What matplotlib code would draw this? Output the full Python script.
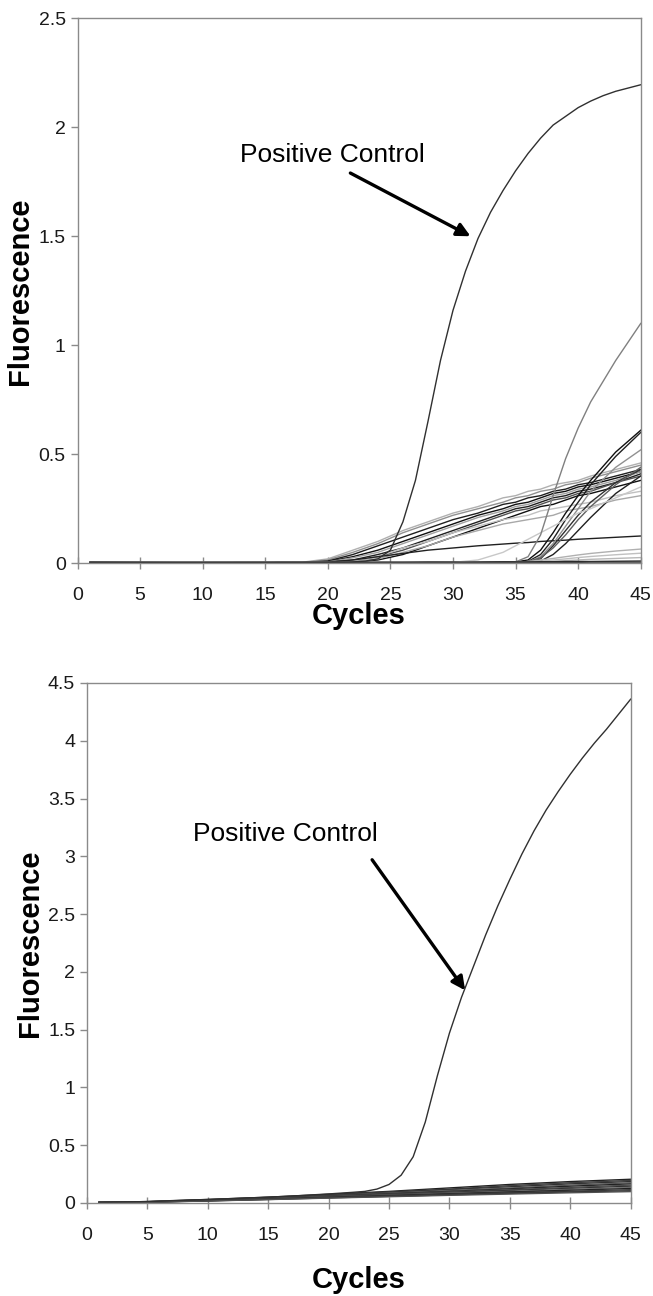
import matplotlib
matplotlib.use("Agg")
import matplotlib.pyplot as plt

plt.rcParams['font.family'] = ['Liberation Sans', 'DejaVu Sans']

# ---- top panel data (cycles, fluorescence) ----
pc_top_x = list(range(1, 46))
pc_top_y = [0.002, 0.002, 0.002, 0.002, 0.002, 0.002, 0.002, 0.002, 0.002, 0.002,
            0.002, 0.002, 0.002, 0.002, 0.002, 0.003, 0.003, 0.003, 0.003, 0.003,
            0.004, 0.006, 0.01, 0.02, 0.06, 0.19, 0.38, 0.65, 0.93, 1.16,
            1.34, 1.49, 1.61, 1.71, 1.8, 1.88, 1.95, 2.01, 2.05, 2.09,
            2.12, 2.145, 2.165, 2.18, 2.195]

top_x = [1, 10, 18, 20, 22, 24, 26, 28, 30, 32, 34, 35, 36, 37, 38, 39, 40, 41, 43, 45]
top_curves = [
    # early risers
    [0.003, 0.003, 0.005, 0.02, 0.06, 0.1, 0.15, 0.19, 0.23, 0.26, 0.3, 0.31, 0.33, 0.34, 0.36, 0.37, 0.38, 0.4, 0.43, 0.46],
    [0.003, 0.003, 0.004, 0.015, 0.05, 0.09, 0.14, 0.18, 0.22, 0.25, 0.28, 0.3, 0.31, 0.33, 0.34, 0.36, 0.37, 0.39, 0.42, 0.45],
    [0.003, 0.003, 0.004, 0.01, 0.04, 0.08, 0.12, 0.16, 0.2, 0.23, 0.27, 0.28, 0.3, 0.31, 0.33, 0.34, 0.36, 0.37, 0.4, 0.43],
    [0.003, 0.003, 0.003, 0.008, 0.03, 0.06, 0.1, 0.14, 0.18, 0.22, 0.25, 0.27, 0.28, 0.3, 0.32, 0.33, 0.35, 0.36, 0.39, 0.42],
    [0.003, 0.003, 0.003, 0.006, 0.025, 0.05, 0.09, 0.13, 0.17, 0.21, 0.24, 0.26, 0.27, 0.29, 0.31, 0.32, 0.34, 0.35, 0.38, 0.42],
    [0.003, 0.003, 0.003, 0.005, 0.015, 0.04, 0.07, 0.11, 0.15, 0.19, 0.23, 0.25, 0.26, 0.28, 0.3, 0.31, 0.33, 0.34, 0.37, 0.41],
    [0.003, 0.003, 0.003, 0.004, 0.01, 0.03, 0.06, 0.1, 0.14, 0.18, 0.22, 0.24, 0.25, 0.27, 0.29, 0.3, 0.32, 0.33, 0.37, 0.4],
    [0.003, 0.003, 0.003, 0.004, 0.006, 0.015, 0.04, 0.08, 0.12, 0.16, 0.2, 0.22, 0.24, 0.26, 0.27, 0.29, 0.31, 0.32, 0.35, 0.38],
    [0.003, 0.003, 0.003, 0.004, 0.01, 0.03, 0.07, 0.1, 0.14, 0.17, 0.2, 0.21, 0.22, 0.24, 0.25, 0.26, 0.27, 0.28, 0.31, 0.33],
    [0.003, 0.003, 0.003, 0.004, 0.006, 0.02, 0.05, 0.08, 0.12, 0.15, 0.18, 0.19, 0.2, 0.21, 0.22, 0.24, 0.25, 0.26, 0.29, 0.31],
    [0.003, 0.003, 0.003, 0.005, 0.015, 0.03, 0.045, 0.06, 0.07, 0.08, 0.088, 0.092, 0.095, 0.1, 0.103, 0.106, 0.11, 0.113, 0.119, 0.125],
    # late steep risers
    [0.003, 0.003, 0.003, 0.003, 0.003, 0.003, 0.003, 0.003, 0.003, 0.003, 0.004, 0.006, 0.015, 0.06, 0.14, 0.23, 0.31, 0.38, 0.51, 0.61],
    [0.003, 0.003, 0.003, 0.003, 0.003, 0.003, 0.003, 0.003, 0.003, 0.003, 0.004, 0.005, 0.008, 0.04, 0.11, 0.2, 0.28, 0.36, 0.49, 0.6],
    [0.003, 0.003, 0.003, 0.003, 0.003, 0.003, 0.003, 0.003, 0.003, 0.003, 0.003, 0.004, 0.006, 0.03, 0.09, 0.17, 0.25, 0.33, 0.44, 0.52],
    [0.003, 0.003, 0.003, 0.003, 0.003, 0.003, 0.003, 0.003, 0.003, 0.003, 0.003, 0.004, 0.005, 0.02, 0.08, 0.15, 0.22, 0.28, 0.37, 0.43],
    [0.003, 0.003, 0.003, 0.003, 0.003, 0.003, 0.003, 0.003, 0.003, 0.003, 0.003, 0.003, 0.004, 0.01, 0.04, 0.09, 0.15, 0.21, 0.32, 0.4],
    [0.003, 0.003, 0.003, 0.003, 0.003, 0.003, 0.003, 0.003, 0.003, 0.003, 0.003, 0.004, 0.006, 0.025, 0.07, 0.13, 0.2, 0.26, 0.36, 0.44],
    [0.003, 0.003, 0.003, 0.003, 0.003, 0.003, 0.003, 0.003, 0.004, 0.015, 0.05, 0.08, 0.11, 0.14, 0.17, 0.2, 0.23, 0.25, 0.3, 0.35],
    [0.003, 0.003, 0.003, 0.003, 0.003, 0.003, 0.003, 0.003, 0.003, 0.003, 0.004, 0.006, 0.03, 0.13, 0.31, 0.48, 0.62, 0.74, 0.93, 1.1],
    # near-baseline
    [0.002, 0.002, 0.002, 0.002, 0.002, 0.002, 0.002, 0.002, 0.002, 0.002, 0.003, 0.004, 0.008, 0.015, 0.022, 0.03, 0.038, 0.045, 0.056, 0.065],
    [0.002, 0.002, 0.002, 0.002, 0.002, 0.002, 0.002, 0.002, 0.002, 0.002, 0.002, 0.003, 0.005, 0.01, 0.015, 0.02, 0.026, 0.031, 0.039, 0.046],
    [0.002, 0.002, 0.002, 0.002, 0.002, 0.002, 0.002, 0.002, 0.002, 0.002, 0.002, 0.003, 0.004, 0.006, 0.009, 0.012, 0.015, 0.018, 0.022, 0.026],
    [0.004, 0.002, 0.002, 0.003, 0.003, 0.004, 0.004, 0.005, 0.005, 0.005, 0.006, 0.006, 0.006, 0.007, 0.007, 0.008, 0.008, 0.008, 0.009, 0.01],
    [0.003, 0.001, 0.001, 0.002, 0.002, 0.002, 0.002, 0.003, 0.003, 0.003, 0.003, 0.003, 0.004, 0.004, 0.004, 0.004, 0.004, 0.005, 0.005, 0.005],
]
top_colors = ['#b0b0b0', '#909090', '#202020', '#101010', '#a0a0a0', '#202020', '#505050', '#101010',
              '#c0c0c0', '#a8a8a8', '#202020',
              '#101010', '#202020', '#909090', '#303030', '#202020', '#606060', '#c8c8c8', '#808080',
              '#b0b0b0', '#c0c0c0', '#b8b8b8', '#202020', '#404040']

# ---- bottom panel data ----
pc_bot_x = list(range(1, 46))
pc_bot_y = [0.005, 0.006, 0.008, 0.01, 0.012, 0.015, 0.02, 0.023, 0.027, 0.03,
            0.034, 0.038, 0.042, 0.046, 0.05, 0.055, 0.06, 0.066, 0.072, 0.078,
            0.085, 0.092, 0.1, 0.12, 0.16, 0.24, 0.4, 0.7, 1.1, 1.47,
            1.78, 2.05, 2.32, 2.57, 2.8, 3.02, 3.22, 3.4, 3.56, 3.71,
            3.85, 3.98, 4.1, 4.23, 4.36]

bot_x = [1, 5, 10, 15, 20, 25, 30, 35, 40, 45]
bot_curves = [
    [0.005, 0.012, 0.03, 0.05, 0.075, 0.1, 0.13, 0.16, 0.185, 0.205],
    [0.005, 0.011, 0.028, 0.048, 0.07, 0.095, 0.12, 0.15, 0.175, 0.195],
    [0.005, 0.01, 0.026, 0.045, 0.066, 0.09, 0.115, 0.14, 0.165, 0.185],
    [0.004, 0.01, 0.025, 0.043, 0.062, 0.085, 0.108, 0.13, 0.155, 0.175],
    [0.004, 0.009, 0.024, 0.041, 0.06, 0.08, 0.1, 0.122, 0.145, 0.165],
    [0.004, 0.009, 0.023, 0.04, 0.058, 0.076, 0.095, 0.115, 0.135, 0.155],
    [0.004, 0.008, 0.022, 0.038, 0.055, 0.072, 0.09, 0.108, 0.126, 0.145],
    [0.004, 0.008, 0.021, 0.036, 0.052, 0.068, 0.085, 0.1, 0.118, 0.135],
    [0.003, 0.007, 0.02, 0.034, 0.05, 0.065, 0.08, 0.095, 0.11, 0.125],
    [0.003, 0.007, 0.019, 0.032, 0.047, 0.061, 0.075, 0.089, 0.102, 0.115],
    [0.003, 0.006, 0.018, 0.03, 0.044, 0.057, 0.07, 0.083, 0.095, 0.105],
    [0.003, 0.006, 0.017, 0.029, 0.042, 0.054, 0.066, 0.077, 0.088, 0.098],
]
bot_colors = ['#202020', '#404040', '#303030', '#606060', '#202020', '#505050',
              '#303030', '#707070', '#202020', '#404040', '#303030', '#505050']


def style_axes(ax, ymax, yticks, ylabels, xlabelpad):
    ax.set_xlim(0, 45)
    ax.set_ylim(0, ymax)
    ax.set_xticks(range(0, 46, 5))
    ax.set_yticks(yticks)
    ax.set_yticklabels(ylabels)
    for s in ax.spines.values():
        s.set_color('#8a8a8a')
        s.set_linewidth(1.0)
    ax.tick_params(axis='both', colors='#8a8a8a', labelcolor='#1a1a1a',
                   labelsize=14, length=5, width=1.0)
    ax.tick_params(axis='x', direction='inout', length=8, pad=13)
    ax.set_ylabel('Fluorescence', fontsize=21, fontweight='bold', labelpad=3)
    ax.set_xlabel('Cycles', fontsize=21, fontweight='bold', labelpad=xlabelpad)


fig = plt.figure(figsize=(6.53, 12.96), dpi=100)

ax1 = fig.add_axes([0.1187, 0.5654, 0.8625, 0.4205])
for ys, c in zip(top_curves, top_colors):
    ax1.plot(top_x, ys, color=c, lw=1.0)
ax1.plot(pc_top_x, pc_top_y, color='#303030', lw=1.0)
ax1.text(20.4, 1.875, 'Positive Control', fontsize=19, ha='center', va='center')
ax1.annotate('', xy=(31.4, 1.5), xytext=(21.8, 1.79),
             arrowprops=dict(arrowstyle='-|>', color='black', lw=2.4,
                             mutation_scale=20, shrinkA=0, shrinkB=0))
style_axes(ax1, 2.5, [0, 0.5, 1, 1.5, 2, 2.5], ['0', '0.5', '1', '1.5', '2', '2.5'], -1)

ax2 = fig.add_axes([0.1332, 0.0718, 0.8326, 0.4012])
for ys, c in zip(bot_curves, bot_colors):
    ax2.plot(bot_x, ys, color=c, lw=1.0)
ax2.plot(pc_bot_x, pc_bot_y, color='#303030', lw=1.0)
ax2.text(16.4, 3.19, 'Positive Control', fontsize=19, ha='center', va='center')
ax2.annotate('', xy=(31.3, 1.84), xytext=(23.6, 2.97),
             arrowprops=dict(arrowstyle='-|>', color='black', lw=2.4,
                             mutation_scale=20, shrinkA=0, shrinkB=0))
style_axes(ax2, 4.5, [0, 0.5, 1, 1.5, 2, 2.5, 3, 3.5, 4, 4.5],
           ['0', '0.5', '1', '1.5', '2', '2.5', '3', '3.5', '4', '4.5'], 16)

fig.savefig('out.png', dpi=100, facecolor='white')
